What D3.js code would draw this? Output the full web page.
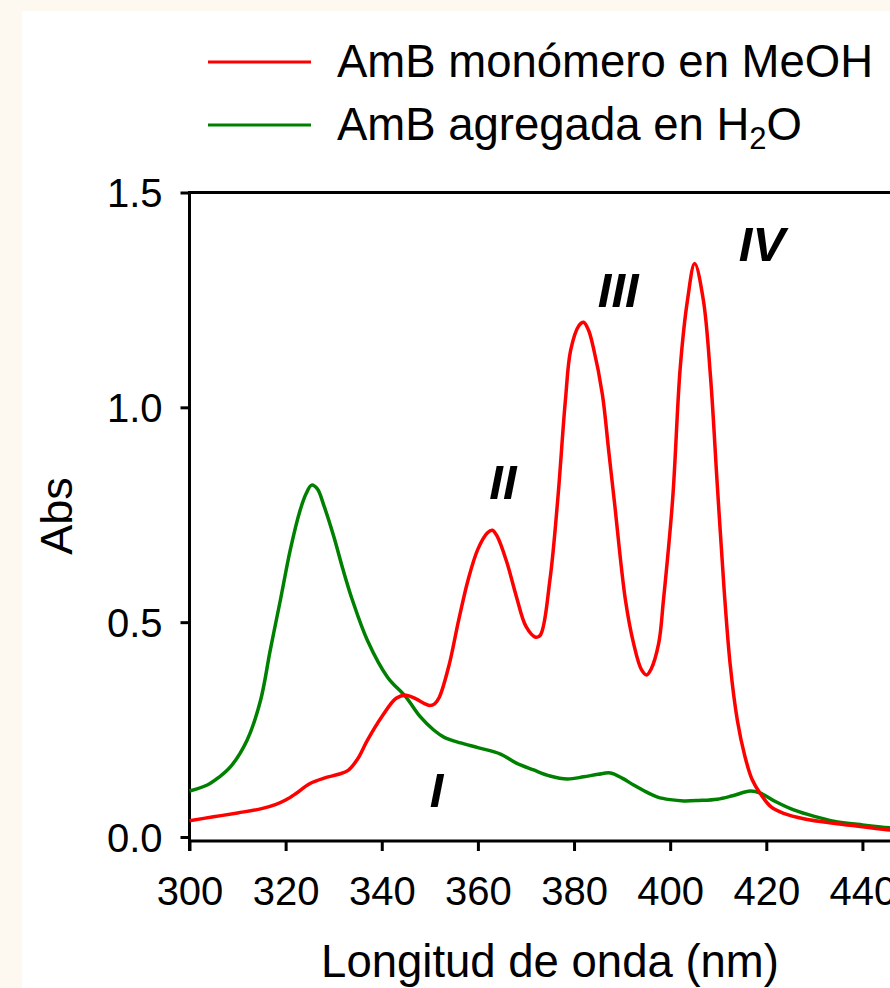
<!DOCTYPE html>
<html>
<head>
<meta charset="utf-8">
<script src="https://cdn.jsdelivr.net/npm/d3@7"></script>
<style>
  body { margin: 0; background: #fdf8f0; }
  svg { display: block; font-family: "Liberation Sans", Arial, sans-serif; }
</style>
</head>
<body>
<div class="container"></div>
<script>

// wavelength (nm) / absorbance
const redNm  = [300, 305, 310, 315, 318, 320, 322, 325, 328, 331, 333, 335, 337, 340, 343, 345, 347, 349, 350, 351, 352, 354, 356, 358, 360, 362, 363, 364, 366, 368, 370, 372, 373, 375, 376.6, 378.2, 379.3, 381, 382, 383, 384, 385.9, 387.2, 388.4, 390.7, 392.4, 394, 395.1, 396, 397.6, 398.6, 400.5, 402.1, 403.6, 405.1, 406.9, 408.4, 409.8, 411.2, 412.5, 414, 415.5, 417, 418.8, 421, 423.6, 428, 434, 440, 446, 450]
const redAbs = [0.038, 0.047, 0.056, 0.066, 0.076, 0.086, 0.100, 0.124, 0.137, 0.146, 0.155, 0.182, 0.225, 0.280, 0.323, 0.330, 0.322, 0.310, 0.306, 0.310, 0.326, 0.40, 0.505, 0.60, 0.67, 0.708, 0.714, 0.70, 0.64, 0.56, 0.49, 0.465, 0.47, 0.60, 0.784, 1.016, 1.133, 1.19, 1.198, 1.18, 1.14, 1.03, 0.90, 0.78, 0.551, 0.45, 0.39, 0.377, 0.39, 0.45, 0.551, 0.784, 1.093, 1.249, 1.335, 1.25, 1.07, 0.82, 0.58, 0.40, 0.27, 0.19, 0.135, 0.10, 0.07, 0.055, 0.042, 0.032, 0.024, 0.016, 0.013]

const greenNm  = [300, 303.7, 306, 308.5, 312, 314.8, 316.8, 318.9, 321, 323, 324.3, 325.4, 326.6, 328, 330, 332, 333.9, 337, 341.2, 345, 348, 350.8, 353, 356.4, 360, 364.7, 368, 371.6, 375, 378.6, 382, 385, 387.6, 390, 392.4, 395, 397.4, 400, 402.8, 406, 409.8, 413, 416.7, 418.8, 422, 425.7, 430, 434, 440, 446, 450]
const greenAbs = [0.107, 0.121, 0.138, 0.163, 0.226, 0.319, 0.435, 0.551, 0.67, 0.76, 0.80, 0.819, 0.81, 0.77, 0.70, 0.62, 0.551, 0.458, 0.372, 0.326, 0.28, 0.249, 0.232, 0.219, 0.208, 0.193, 0.172, 0.156, 0.142, 0.135, 0.14, 0.146, 0.149, 0.137, 0.121, 0.105, 0.093, 0.087, 0.084, 0.085, 0.088, 0.096, 0.107, 0.102, 0.082, 0.063, 0.048, 0.037, 0.028, 0.021, 0.019]

const xTicks = [300, 320, 340, 360, 380, 400, 420, 440]
const yTicks = [0, 0.5, 1.0, 1.5]

const seriesNames = ["AmB monómero en MeOH", "AmB agregada en H"]
const seriesColors = ["#ff0000", "#008000"]

const bandLabels = ["I", "II", "III", "IV"]
const bandNm = [351.4, 365.2, 389.2, 419.1]
const bandAbs = [0.07, 0.787, 1.233, 1.34]

const w = 890
const h = 988

const svg = d3.select(".container")
.append("svg")
.attr("width", w)
.attr("height", h)

svg.append("rect")
.attr("x", 22)
.attr("y", 11)
.attr("width", w)
.attr("height", h)
.attr("fill", "#fff")

const xScale = d3.scaleLinear()
.domain([300, 450])
.range([189.5, 910.5])

const yScale = d3.scaleLinear()
.domain([0, 1.5])
.range([837, 192.5])

const xBase = 841

//Axises
const xAxis = d3.axisBottom(xScale).tickValues(xTicks).tickSize(10).tickPadding(26).tickSizeOuter(0)
const yAxis = d3.axisLeft(yScale).tickValues(yTicks).tickSize(9).tickPadding(18).tickFormat(d3.format(".1f")).tickSizeOuter(0)

const gx = svg.append("g")
.attr("transform", "translate(0," + xBase + ")")
.call(xAxis)

const gy = svg.append("g")
.attr("transform", "translate(189.5,0)")
.call(yAxis)

gx.select(".domain").remove()
gy.select(".domain").remove()

svg.selectAll(".tick line").attr("stroke", "#000").attr("stroke-width", 3)
svg.selectAll(".tick text")
.attr("font-size", 40)
.attr("font-family", "Liberation Sans, Arial, sans-serif")
.attr("fill", "#000")
gy.selectAll(".tick text").attr("dy", "0.36em")

// frame: left, bottom and top lines
svg.append("line")
.attr("x1", 189.5).attr("x2", 189.5)
.attr("y1", yScale(1.5) - 1.5).attr("y2", xBase + 10)
.attr("stroke", "#000").attr("stroke-width", 3)

svg.append("line")
.attr("x1", 188).attr("x2", w)
.attr("y1", xBase).attr("y2", xBase)
.attr("stroke", "#000").attr("stroke-width", 3)

svg.append("line")
.attr("x1", 188).attr("x2", w)
.attr("y1", yScale(1.5)).attr("y2", yScale(1.5))
.attr("stroke", "#000").attr("stroke-width", 3)

//curves
const line = d3.line()
.x((d) => xScale(d[0]))
.y((d) => yScale(d[1]))
.curve(d3.curveCatmullRom.alpha(0.5))

const green = greenNm.map((d, i) => [d, greenAbs[i]])
const red = redNm.map((d, i) => [d, redAbs[i]])

svg.append("path")
.datum(green)
.attr("d", line)
.attr("fill", "none")
.attr("stroke", seriesColors[1])
.attr("stroke-width", 3.5)

svg.append("path")
.datum(red)
.attr("d", line)
.attr("fill", "none")
.attr("stroke", seriesColors[0])
.attr("stroke-width", 3.5)

//band labels
svg.selectAll(".band")
.data(bandLabels)
.enter()
.append("text")
.attr("class", "band")
.attr("x", (d, i) => xScale(bandNm[i]))
.attr("y", (d, i) => yScale(bandAbs[i]))
.attr("text-anchor", "middle")
.attr("font-size", 49)
.attr("font-weight", "bold")
.attr("font-style", "italic")
.text((d) => d)

//legend
const legend = svg.selectAll(".legend")
.data(seriesNames)
.enter()
.append("g")
.attr("class", "legend")
.attr("transform", (d, i) => "translate(0," + (62 + i * 63) + ")")

legend.append("line")
.attr("x1", 208).attr("x2", 311)
.attr("stroke", (d, i) => seriesColors[i])
.attr("stroke-width", 3)

const ltext = legend.append("text")
.attr("x", 337)
.attr("y", 15)
.attr("font-size", 45.5)
.text((d) => d)

ltext.filter((d, i) => i === 1)
.append("tspan")
.attr("font-size", 31)
.attr("dy", 9)
.text("2")

ltext.filter((d, i) => i === 1)
.append("tspan")
.attr("dy", -9)
.text("O")

//axis titles
svg.append("text")
.attr("x", 550)
.attr("y", 977)
.attr("text-anchor", "middle")
.attr("font-size", 45.5)
.text("Longitud de onda (nm)")

svg.append("text")
.attr("transform", "rotate(-90)")
.attr("x", -516)
.attr("y", 72)
.attr("text-anchor", "middle")
.attr("font-size", 45)
.text("Abs")

</script>
</body>
</html>
